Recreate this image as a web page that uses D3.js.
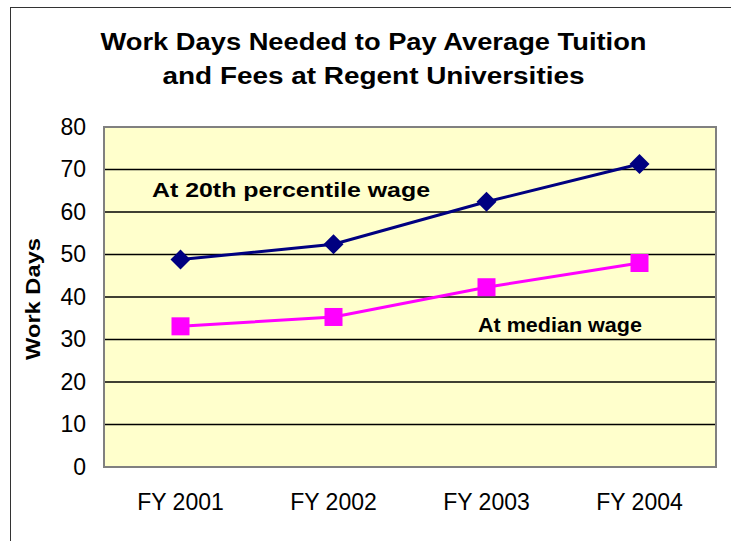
<!DOCTYPE html>
<html>
<head>
<meta charset="utf-8">
<script src="https://cdn.jsdelivr.net/npm/d3@7"></script>
<style>
  body { margin: 0; background: #fff; }
  svg { display: block; font-family: "Liberation Sans", Arial, sans-serif; }
</style>
</head>
<body>
<div id="chart"></div>
<script>
// chart data
years = ["FY 2001", "FY 2002", "FY 2003", "FY 2004"];
pct20Wage = [48.8, 52.4, 62.4, 71.3];
medianWage = [33.1, 35.3, 42.3, 48.0];
yTicks = [0, 10, 20, 30, 40, 50, 60, 70, 80];
titleLines = ["Work Days Needed to Pay Average Tuition", "and Fees at Regent Universities"];

let svg = d3.select('#chart')
    .append('svg')
    .attr('width', 731)
    .attr('height', 541);

// outer frame (runs off the right / bottom of the picture)
svg.append('rect')
    .attr('x', 10.5).attr('y', 7.5)
    .attr('width', 740).attr('height', 560)
    .attr('fill', '#fff')
    .attr('stroke', '#333')
    .attr('stroke-width', 1);

let plot = { left: 104, right: 716, top: 127, bottom: 467 };

let x = d3.scaleBand()
    .domain(years)
    .range([plot.left, plot.right]);

let y = d3.scaleLinear()
    .domain([0, 80])
    .range([plot.bottom, plot.top]);

let cx = d => x(d) + x.bandwidth() / 2;

// plot area background
svg.append('rect')
    .attr('x', plot.left).attr('y', plot.top)
    .attr('width', plot.right - plot.left)
    .attr('height', plot.bottom - plot.top)
    .attr('fill', '#FFFFCC');

// gridlines
svg.selectAll('.grid')
    .data(yTicks.filter(t => t > 0 && t < 80))
    .enter().append('line')
    .attr('class', 'grid')
    .attr('x1', plot.left).attr('x2', plot.right)
    .attr('y1', d => y(d)).attr('y2', d => y(d))
    .attr('stroke', '#000')
    .attr('stroke-width', 1.6);

// plot border
svg.append('rect')
    .attr('x', plot.left).attr('y', plot.top)
    .attr('width', plot.right - plot.left)
    .attr('height', plot.bottom - plot.top)
    .attr('fill', 'none')
    .attr('stroke', '#808080')
    .attr('stroke-width', 2);

// y axis labels
let yAxis = d3.axisLeft(y).tickValues(yTicks).tickSize(0).tickPadding(18);
let yG = svg.append('g')
    .attr('transform', `translate(${plot.left},0)`)
    .call(yAxis);
yG.select('.domain').remove();
yG.selectAll('text')
    .attr('font-family', '"Liberation Sans", Arial, sans-serif')
    .style('font-size', '23px')
    .attr('fill', '#000');

// x axis labels
let xAxis = d3.axisBottom(x).tickSize(0).tickPadding(27);
let xG = svg.append('g')
    .attr('transform', `translate(0,${plot.bottom})`)
    .call(xAxis);
xG.select('.domain').remove();
xG.selectAll('text')
    .attr('font-family', '"Liberation Sans", Arial, sans-serif')
    .style('font-size', '23px')
    .attr('fill', '#000');

// title (the original's bold text is drawn a bit wide)
svg.selectAll('.title')
    .data(titleLines)
    .enter().append('text')
    .attr('class', 'title')
    .attr('x', 373.5)
    .attr('y', (d, i) => 50 + i * 34)
    .attr('text-anchor', 'middle')
    .attr('textLength', (d, i) => i === 0 ? 546 : 422)
    .attr('lengthAdjust', 'spacingAndGlyphs')
    .style('font-size', '23px')
    .style('font-weight', 'bold')
    .text(d => d);

// y axis title
svg.append('text')
    .attr('transform', 'rotate(-90)')
    .attr('x', -299)
    .attr('y', 40)
    .attr('text-anchor', 'middle')
    .attr('textLength', 122)
    .attr('lengthAdjust', 'spacingAndGlyphs')
    .style('font-size', '20px')
    .style('font-weight', 'bold')
    .text('Work Days');

// lines
let line = d3.line()
    .x((d, i) => cx(years[i]))
    .y(d => y(d));

svg.append('path')
    .datum(pct20Wage)
    .attr('d', line)
    .attr('fill', 'none')
    .attr('stroke', '#000080')
    .attr('stroke-width', 3);

svg.append('path')
    .datum(medianWage)
    .attr('d', line)
    .attr('fill', 'none')
    .attr('stroke', '#FF00FF')
    .attr('stroke-width', 3);

// markers
svg.selectAll('.diamond')
    .data(pct20Wage)
    .enter().append('path')
    .attr('class', 'diamond')
    .attr('d', 'M0,-10L10,0L0,10L-10,0Z')
    .attr('transform', (d, i) => `translate(${cx(years[i])},${y(d)})`)
    .attr('fill', '#000080');

svg.selectAll('.square')
    .data(medianWage)
    .enter().append('rect')
    .attr('class', 'square')
    .attr('x', (d, i) => cx(years[i]) - 9)
    .attr('y', d => y(d) - 9)
    .attr('width', 18)
    .attr('height', 18)
    .attr('fill', '#FF00FF');

// series labels
svg.append('text')
    .attr('x', 152)
    .attr('y', 197)
    .attr('textLength', 278)
    .attr('lengthAdjust', 'spacingAndGlyphs')
    .style('font-size', '21px')
    .style('font-weight', 'bold')
    .text('At 20th percentile wage');

svg.append('text')
    .attr('x', 478)
    .attr('y', 332)
    .attr('textLength', 164)
    .attr('lengthAdjust', 'spacingAndGlyphs')
    .style('font-size', '21px')
    .style('font-weight', 'bold')
    .text('At median wage');
</script>
</body>
</html>
